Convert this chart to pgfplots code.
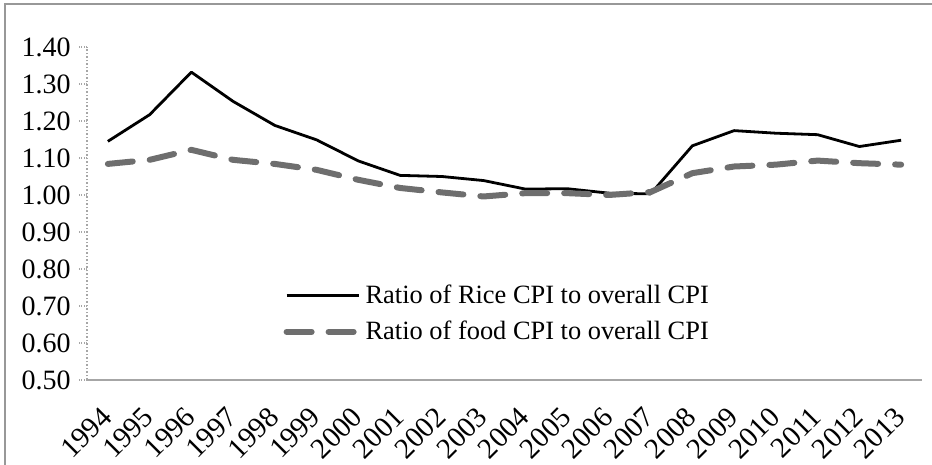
\documentclass[border=0pt]{standalone}
\usepackage{pgfplots}
\pgfplotsset{compat=1.18}
\usepackage{fontspec}
\setmainfont{Liberation Serif}
\definecolor{axgray}{HTML}{A6A6A6}
\definecolor{framegray}{HTML}{989898}
\definecolor{foodgray}{HTML}{6E6E6E}
\pgfplotstableread{
x rice food
0 1.145 1.084
1 1.217 1.095
2 1.332 1.122
3 1.253 1.095
4 1.188 1.084
5 1.149 1.068
6 1.092 1.041
7 1.053 1.019
8 1.050 1.007
9 1.039 0.996
10 1.016 1.005
11 1.017 1.005
12 1.005 1.000
13 1.003 1.008
14 1.133 1.059
15 1.174 1.077
16 1.167 1.082
17 1.163 1.093
18 1.131 1.086
19 1.148 1.082
}\datatable
\begin{document}
\begin{tikzpicture}
\useasboundingbox (0,0) rectangle (466pt,232.5pt);
\draw[framegray, line width=1pt] (2.5pt,0) -- (2.5pt,230.5pt) -- (470pt,230.5pt);
\begin{axis}[
  at={(43.5pt,42.5pt)}, anchor=south west,
  scale only axis, width=417.5pt, height=166.5pt,
  xmin=-0.5, xmax=19.5, ymin=0.5, ymax=1.4,
  axis x line*=bottom, axis y line*=left,
  x axis line style={axgray, line width=0.75pt, -},
  y axis line style={axgray, densely dotted, line width=0.75pt, -},
  tick align=outside,
  major tick length=4pt, minor tick length=4pt,
  xtick={0,...,19},
  xticklabels={1994,1995,1996,1997,1998,1999,2000,2001,2002,2003,2004,2005,2006,2007,2008,2009,2010,2011,2012,2013},
  xtick style={draw=none},
  minor xtick={-0.5,0.5,...,19.5},
  minor x tick style={axgray, line width=0.75pt},
  ytick={0.5,0.6,0.7,0.8,0.9,1.0,1.1,1.2,1.3,1.4},
  ytick style={axgray, densely dotted, line width=0.75pt},
  /pgf/number format/fixed, /pgf/number format/fixed zerofill,
  /pgf/number format/precision=2, /pgf/number format/assume math mode=true,
  tick label style={font=\fontsize{14}{16}\selectfont, text=black},
  xticklabel style={xshift=-0.5pt, yshift=-12pt, rotate=45, anchor=east, inner sep=0pt, font=\fontsize{14.5}{17}\selectfont},
  yticklabel style={inner sep=0pt, xshift=-4pt},
  legend style={at={(0.235,0.30)}, anchor=north west, draw=none, fill=none,
    font=\fontsize{13.2}{16}\selectfont, inner sep=0pt, row sep=3.5pt,
    /tikz/every odd column/.append style={column sep=0pt}},
  legend cell align=left,
  legend image code/.code={\draw[#1] (0pt,0pt) -- (36pt,0pt);},
]
\addplot[black, line width=1.4pt, line join=round] table[x=x, y=rice] {\datatable};
\addlegendentry{Ratio of Rice CPI to overall CPI}
\addplot[foodgray, line width=3pt, line cap=round, line join=round, dash pattern=on 12.5pt off 8.5pt] table[x=x, y=food] {\datatable};
\addlegendentry{Ratio of food CPI to overall CPI}
\end{axis}
\end{tikzpicture}
\end{document}
